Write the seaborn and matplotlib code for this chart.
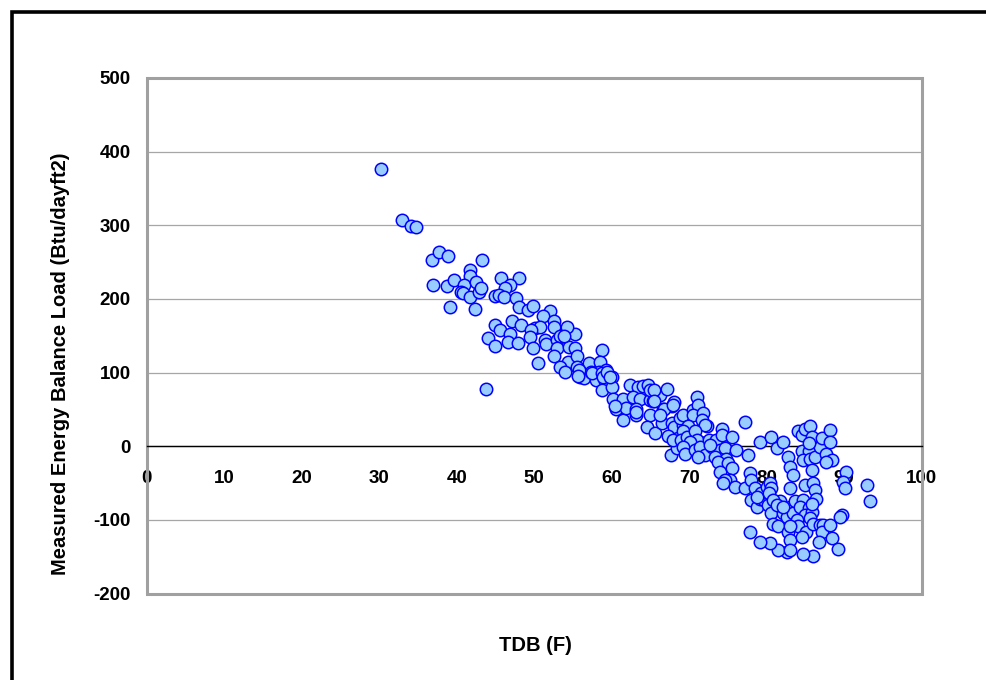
import matplotlib
matplotlib.use("Agg")
import matplotlib.pyplot as plt
import matplotlib.patches as mpatches
import seaborn as sns
import pandas as pd

# ---- data ----
tdb = [
    30.2, 33.0, 34.1, 34.7, 36.8, 37.7, 38.9, 43.3, 37.0, 38.7, 39.7, 41.7, 41.7, 41.0, 40.6, 40.8,
    41.7, 42.5, 42.9, 43.2, 39.2, 42.4, 45.7, 48.0, 46.9, 46.2, 44.9, 45.5, 46.1, 47.7, 48.1, 49.2,
    49.9, 52.0, 51.1, 52.5, 52.5, 47.1, 45.0, 45.6, 46.9, 48.3, 50.1, 50.7, 49.6, 49.5, 49.9, 51.4,
    51.5, 52.9, 53.3, 52.9, 52.5, 44.0, 44.9, 46.6, 47.9, 50.5, 43.8, 55.3, 54.2, 54.5, 55.3,
    54.4, 55.5, 53.8, 58.7,
    53.3, 54.0, 55.5, 55.9, 56.4, 57.1, 57.3, 58.5, 58.4, 58.0, 59.3, 59.1, 60.0, 58.8, 60.1,
    60.2, 60.5, 61.4, 61.5, 61.8, 62.4, 63.4, 62.7, 63.7, 63.1, 63.1, 64.1, 64.7, 64.9, 64.9, 65.3,
    66.2, 67.2, 66.6, 68.1, 67.8, 64.5, 65.6, 66.5, 67.8, 68.0, 67.3, 68.6,
    67.6, 68.4, 67.9, 71.0,
    55.8, 55.7, 57.4, 58.7, 58.9, 59.4, 59.8, 60.4, 63.2, 64.9, 65.4, 65.4, 66.7, 66.3, 67.9, 69.2,
    72.3, 71.4, 72.7, 74.4, 73.8, 74.6,
    68.8, 69.2, 70.5, 71.2, 70.5, 71.8, 71.6, 72.0, 69.9, 69.2, 69.0, 69.7, 70.7, 71.0, 70.1, 69.2,
    69.4, 70.7, 71.4, 72.0, 71.2, 72.5, 72.9, 73.5, 74.2, 74.2, 74.0, 73.3, 72.7, 74.6, 75.5, 74.8,
    73.7, 75.0, 74.0, 75.5, 76.1, 75.3, 74.6, 75.9, 74.4, 77.2, 77.6, 77.2, 77.8, 78.0, 78.5, 78.0,
    78.7, 77.8, 79.1, 79.1, 79.6, 79.3, 80.0, 80.4, 80.6, 80.2, 80.6, 81.3, 82.1, 82.8, 83.0, 83.4,
    83.0, 81.7, 80.6, 80.8, 81.5, 82.1, 83.0, 82.6, 83.4, 83.6, 82.8, 83.0, 84.1, 84.5, 84.9, 85.6,
    85.8, 84.5, 85.4, 84.7, 85.6, 85.8, 86.2, 86.9, 87.1, 87.7, 88.4, 88.2, 88.2, 87.7, 84.9, 86.0,
    86.2, 86.4, 84.7, 84.3, 85.4, 84.9, 85.8, 85.6, 83.9, 84.1, 85.1, 84.5, 86.0, 86.9, 87.3, 87.1,
    88.2, 88.4, 86.7, 89.2, 86.0, 84.7, 82.6, 81.5, 80.4, 79.1, 90.3, 89.9, 90.1, 89.7, 89.4, 92.9,
    93.3,
    85.4, 85.8, 78.8, 80.3, 80.8, 81.3, 82.1, 83.0, 83.0,
]
load = [
    376, 307, 299, 298, 253, 264, 258, 253, 219, 217, 226, 239, 231, 219, 210, 208,
    202, 223, 209, 215, 189, 187, 229, 228, 219, 215, 204, 206, 203, 201, 189, 185,
    191, 184, 177, 170, 162, 170, 164, 158, 153, 164, 160, 162, 158, 148, 134, 144,
    139, 144, 149, 133, 122, 147, 136, 142, 140, 113, 78, 153, 162, 135, 133,
    115, 122, 149, 130,
    107, 101, 108, 94, 92, 113, 101, 115, 101, 90, 104, 89, 94, 77, 80,
    64, 51, 64, 36, 52, 83, 81, 67, 64, 50, 42, 82, 83, 63, 43, 61,
    70, 78, 51, 60, 54, 26, 18, 31, 31, 26, 14, 11,
    -12, -3, 8, 67,
    103, 95, 100, 100, 94, 101, 94, 54, 47, 76, 76, 62, 51, 42, 56, 29,
    27, 6, -1, 13, -16, -3,
    38, 42, 49, 56, 42, 45, 36, 29, 27, 20, 8, 13, 20, 8, 6, -1,
    -10, -5, -1, -12, -14, 8, -1, 8, 24, 15, -5, -14, 2, -3, 13, -17,
    -21, -23, -35, -30, -5, -46, -46, -55, -50, 33, -12, -57, -37, -46, -57, -73,
    -82, -116, 6, -72, -73, -64, -55, -50, -57, -80, 13, -3, 6, -14, -28, -39,
    -57, -75, -91, -105, -109, -91, -82, -96, -91, -75, -116, -127, 20, 15, 24, 27,
    13, -7, -7, -19, -17, -32, -14, -1, 11, -10, -19, 22, 6, -21, -53, -50,
    -60, -71, -73, -82, -84, -93, -89, -98, -100, -109, -116, -123, -105, -107, -107, -116,
    -107, -125, -130, -139, -149, -146, -143, -141, -132, -130, -35, -48, -57, -93, -96, -53,
    -74,
    4, -78, -69, -63, -73, -80, -82, -109, -141,
]

df = pd.DataFrame({"TDB (F)": tdb, "Load": load})

# ---- figure ----
sns.set_style("white")
plt.rcParams["font.family"] = ["Liberation Sans", "DejaVu Sans"]
plt.rcParams["font.weight"] = "bold"
plt.rcParams["axes.unicode_minus"] = False
for key in ["text.color", "axes.labelcolor", "xtick.color", "ytick.color",
            "xtick.labelcolor", "ytick.labelcolor"]:
    plt.rcParams[key] = "black"

fig = plt.figure(figsize=(9.87, 6.80), dpi=100)
ax = fig.add_axes([0.1486, 0.1272, 0.7852, 0.7581])

ax.set_xlim(0, 100)
ax.set_ylim(-200, 500)
ax.set_xticks(range(0, 101, 10))
ax.set_yticks(range(-200, 501, 100))

ax.yaxis.grid(True, color="#a6a6a6", linewidth=0.9)
ax.xaxis.grid(False)
ax.set_axisbelow(True)

sns.scatterplot(data=df, x="TDB (F)", y="Load", ax=ax, s=80,
                color="#99ccff", edgecolor="#0000ff", linewidth=1.1, zorder=5)

# plot-area border
ax.add_patch(mpatches.Rectangle((0, 0), 1, 1, transform=ax.transAxes, fill=False,
                                edgecolor="#a0a0a0", linewidth=2.2, zorder=3, clip_on=False))
for side in ["top", "right"]:
    ax.spines[side].set_visible(False)
ax.spines["left"].set_color("#7f7f7f")
ax.spines["left"].set_linewidth(1.8)
ax.spines["bottom"].set_position(("data", 0))
ax.spines["bottom"].set_color("black")
ax.spines["bottom"].set_linewidth(1.0)
ax.spines["bottom"].set_zorder(4)

ax.tick_params(axis="y", direction="out", length=4.5, width=1, color="black",
               labelcolor="black", labelsize=13.5, pad=7)
ax.tick_params(axis="x", direction="out", length=5, width=1, color="black",
               labelcolor="black", labelsize=13.5, pad=12)
for lab in ax.get_xticklabels() + ax.get_yticklabels():
    lab.set_fontweight("bold")

ax.set_xlabel("TDB (F)", fontsize=14.5, fontweight="bold", color="black")
ax.set_ylabel("Measured Energy Balance Load (Btu/dayft2)", fontsize=14.5,
              fontweight="bold", color="black")
ax.xaxis.set_label_coords(0.501, -0.082)
ax.yaxis.set_label_coords(-0.099, 0.445)

# outer chart border (black, left and top visible)
fig.patches.append(mpatches.Rectangle((11.7 / 987, -0.2), 1.2, 1.2 - 11.7 / 680,
                                      transform=fig.transFigure, fill=False,
                                      edgecolor="black", linewidth=2.6))

fig.savefig("out.png", dpi=100)
